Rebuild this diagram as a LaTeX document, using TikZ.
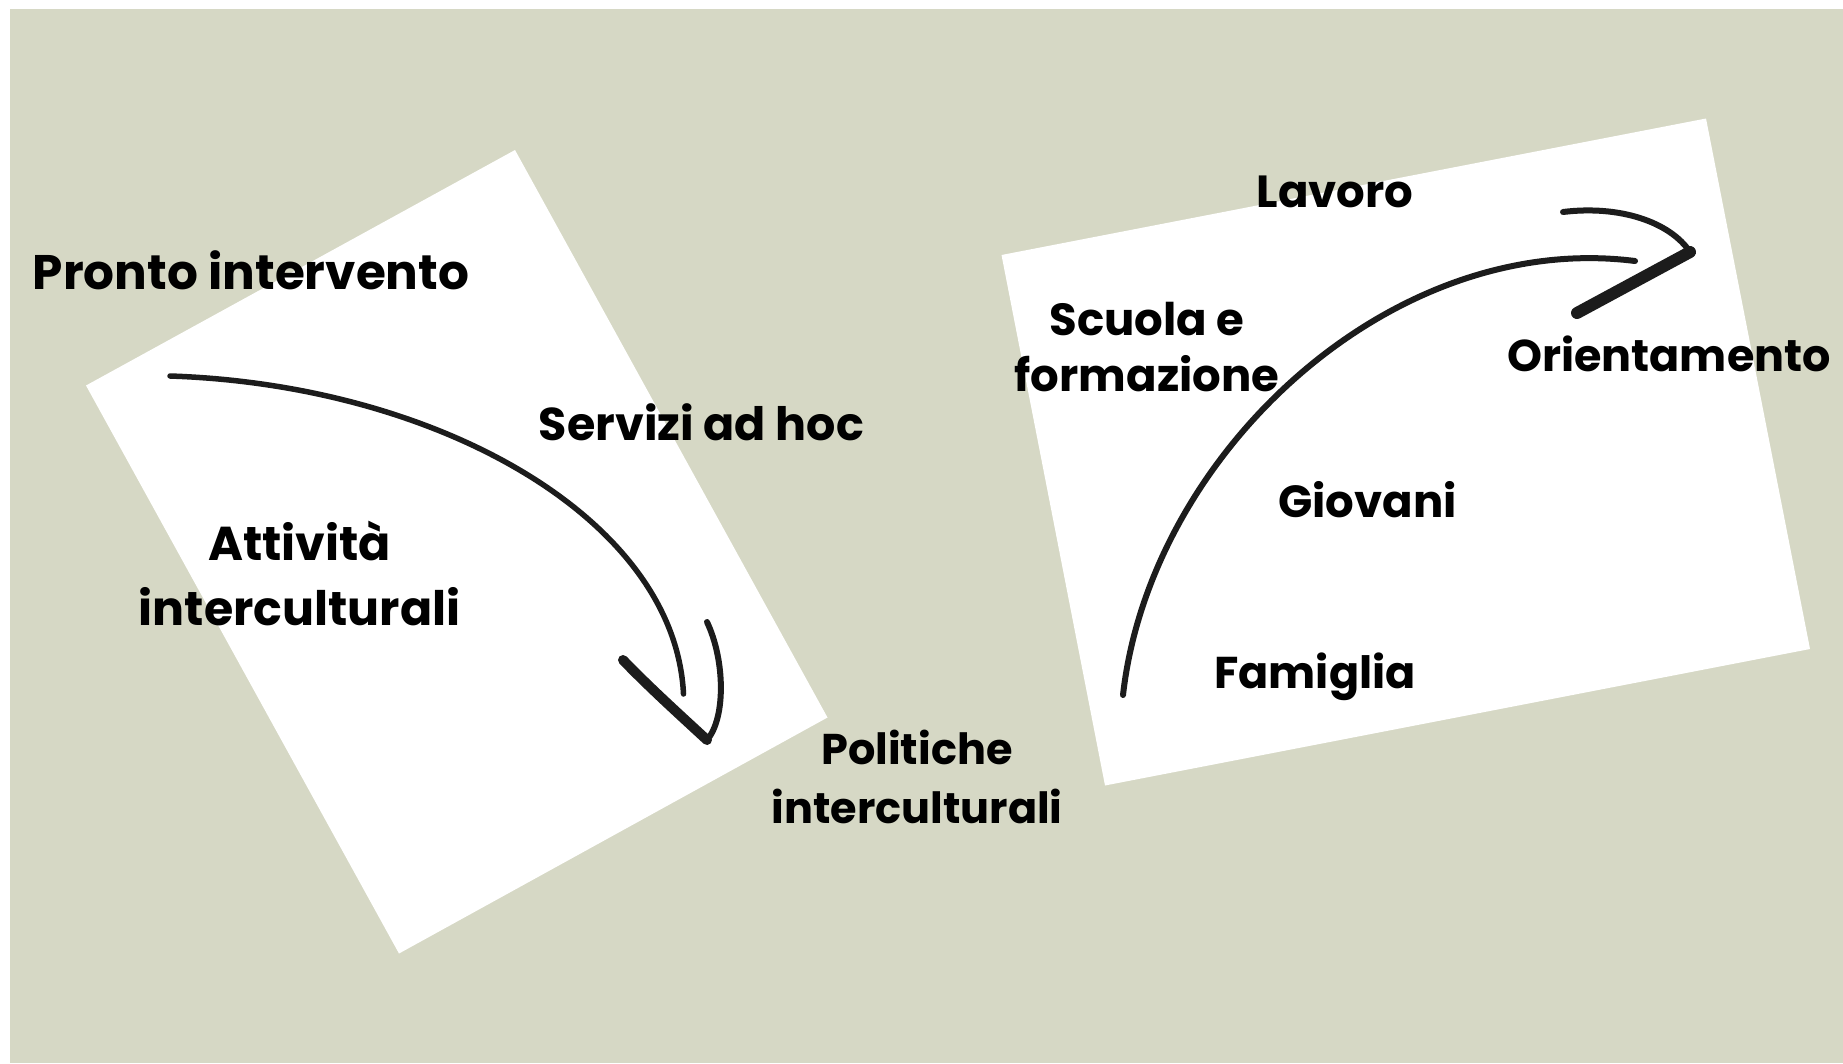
\documentclass[tikz,border=0pt]{standalone}
\usepackage{fontspec}
\setmainfont{Poppins}
\begin{document}
\begin{tikzpicture}[x=1pt,y=-1pt]
\definecolor{bgsage}{RGB}{214,216,197}
\definecolor{pencil}{RGB}{28,28,28}
\tikzset{
  lbl/.style={inner sep=0pt, font=\bfseries\fontsize{#1}{#1}\selectfont, text=black},
  lbl2/.style 2 args={inner sep=0pt, align=center, font=\bfseries\fontsize{#1}{#2}\selectfont, text=black},
  sheet/.style={fill=white},
  stroke/.style={draw=pencil, line width=#1, line cap=round, line join=round},
}
\useasboundingbox (0,0) rectangle (1843,1063);
\fill[white] (0,0) rectangle (1843,1063);
\fill[bgsage] (10,9) rectangle (1843,1063);
% sheets
\fill[sheet] (515,150) -- (827.5,717.5) -- (399,953.5) -- (86,385.5) -- cycle;
\fill[sheet] (1001.5,255) -- (1706,118.5) -- (1810,649) -- (1105,785.5) -- cycle;
% left arrow
\coordinate (la0) at (170,376);
\coordinate (la1) at (683.5,694);
\coordinate (lb1) at (623,660);
\coordinate (lt) at (707,740);
\coordinate (lb2) at (707,622);
\draw[stroke=5.5pt] (la0) .. controls (440,385) and (675,520) .. (la1);
\draw[stroke=10pt] (lb1) .. controls (650,688) and (680,715) .. (lt);
\draw[stroke=6pt] (lb2) .. controls (725,660) and (726,718) .. (lt);
% right arrow
\coordinate (ra0) at (1123,695);
\coordinate (ra1) at (1635,261);
\coordinate (rb1) at (1563,212);
\coordinate (rt) at (1690,252);
\coordinate (rb2) at (1577,313);
\draw[stroke=6pt] (ra0) .. controls (1150,455) and (1390,230) .. (ra1);
\draw[stroke=6pt] (rb1) .. controls (1620,205) and (1670,222) .. (rt);
\draw[stroke=12pt] (rt) -- (rb2);
% labels
\node[lbl=48.5, anchor=base] (pronto) at (251,289) {Pronto intervento};
\node[lbl=46, anchor=base] (servizi) at (701.5,440) {Servizi ad hoc};
\node[lbl2={47.5}{65}] (attivita) at (299.5,573) {Attività\\interculturali};
\node[lbl2={43}{59}] (politiche) at (917,777) {Politiche\\interculturali};
\node[lbl=45, anchor=base] (lavoro) at (1335,207) {Lavoro};
\node[lbl2={45}{56}] (scuola) at (1147,347.5) {Scuola e\\formazione};
\node[lbl=44.5, anchor=base] (orient) at (1669,371) {Orientamento};
\node[lbl=45, anchor=base] (giovani) at (1367.5,517) {Giovani};
\node[lbl=44.5, anchor=base] (famiglia) at (1315,688) {Famiglia};
\end{tikzpicture}
\end{document}
